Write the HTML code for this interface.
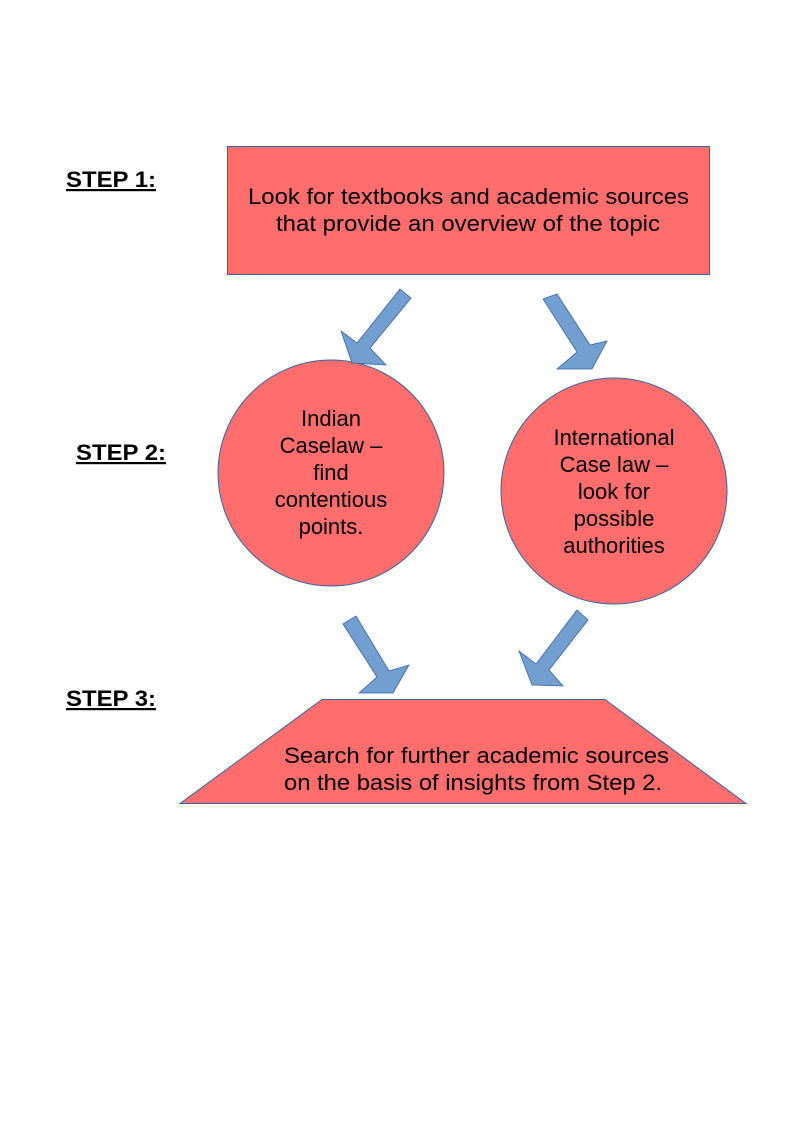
<!DOCTYPE html><html><head><style>body{margin:0;background:#fff}svg text{font-family:"Liberation Sans",sans-serif}</style></head><body>
<svg width="794" height="1123" xmlns="http://www.w3.org/2000/svg">
<g font-size="22" font-weight="bold" text-decoration="underline" fill="#000">
<text x="66" y="187" textLength="90" lengthAdjust="spacingAndGlyphs">STEP 1:</text>
<text x="76" y="460" textLength="90" lengthAdjust="spacingAndGlyphs">STEP 2:</text>
<text x="66" y="706" textLength="90" lengthAdjust="spacingAndGlyphs">STEP 3:</text>
</g>
<rect x="227.5" y="146.5" width="482" height="128" fill="#ff6d6d" stroke="#3465a4"/>
<g font-size="22" fill="#000" lengthAdjust="spacingAndGlyphs">
<text x="248" y="204" textLength="441" lengthAdjust="spacingAndGlyphs">Look for textbooks and academic sources</text>
<text x="276" y="231" textLength="384" lengthAdjust="spacingAndGlyphs">that provide an overview of the topic</text>
</g>
<circle cx="331" cy="473" r="113" fill="#ff6d6d" stroke="#3465a4"/>
<g font-size="22" text-anchor="middle"><text x="331" y="426">Indian</text><text x="331" y="453">Caselaw –</text><text x="331" y="480">find</text><text x="331" y="507">contentious</text><text x="331" y="534">points.</text></g>
<circle cx="614" cy="491" r="113" fill="#ff6d6d" stroke="#3465a4"/>
<g font-size="22" text-anchor="middle"><text x="614" y="445">International</text><text x="614" y="472">Case law –</text><text x="614" y="499">look for</text><text x="614" y="526">possible</text><text x="614" y="553">authorities</text></g>
<polygon points="322,699.5 605,699.5 746,803.5 180,803.5" fill="#ff6d6d" stroke="#3465a4"/>
<g font-size="22"><text x="284" y="763" textLength="385" lengthAdjust="spacingAndGlyphs">Search for further academic sources</text><text x="284" y="790" textLength="378" lengthAdjust="spacingAndGlyphs">on the basis of insights from Step 2.</text></g>
<g fill="#729fcf" stroke="#3465a4" stroke-width="0.8">
<polygon points="400,289 411,298 370,348 386,365 352,363 341,331 357,343"/>
<polygon points="543,299 557,294 590,345 607,341 592,369 557,369 577,352"/>
<polygon points="343,624 356,616 389,671 409,665 393,693 359,693 377,677"/>
<polygon points="577,610 588,620 549,670 563,686 532,685 519,651 536,664"/>
</g>
</svg></body></html>
